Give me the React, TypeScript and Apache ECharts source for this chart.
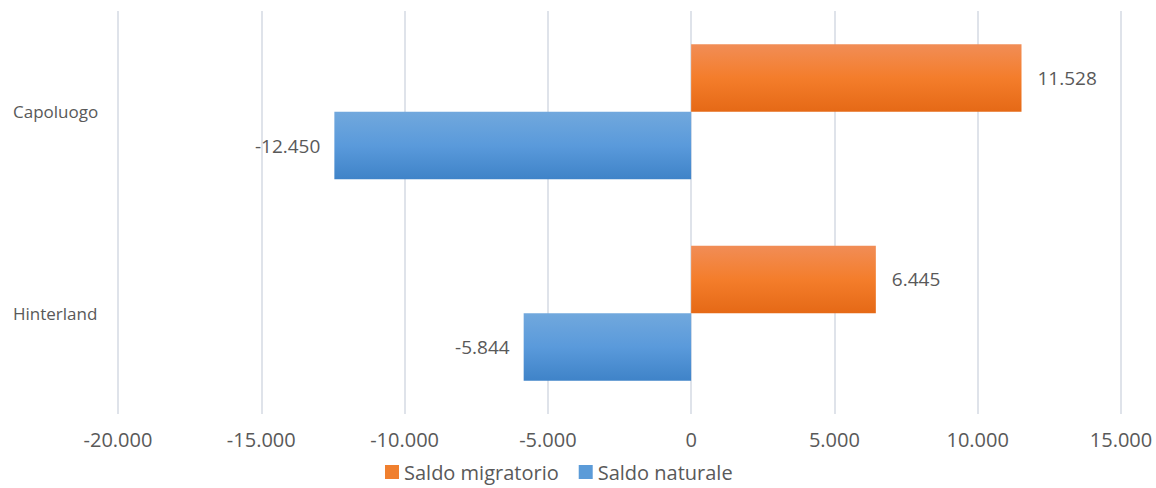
import React, { useEffect, useRef } from "react";
import * as echarts from "echarts";

const categories = ["Hinterland", "Capoluogo"];
const saldoMigratorio = [6445, 11528];
const saldoNaturale = [-5844, -12450];
const seriesNames = ["Saldo migratorio", "Saldo naturale"];
const xMin = -20000;
const xMax = 15000;
const xInterval = 5000;

function fmt(v: number): string {
  const s = Math.abs(Math.round(v)).toString().replace(/\B(?=(\d{3})+(?!\d))/g, ".");
  return (v < 0 ? "-" : "") + s;
}

const FONT = "'Open Sans', 'Noto Sans', sans-serif";
const TXT = "#595959";

export default function App() {
  const ref = useRef<HTMLDivElement>(null);
  useEffect(() => {
    document.body.style.margin = "0";
    if (!ref.current) return;
    const chart = echarts.init(ref.current, undefined, { renderer: "svg" });
    const orange = new echarts.graphic.LinearGradient(0, 0, 0, 1, [
      { offset: 0, color: "#f18d56" },
      { offset: 0.5, color: "#f47d2b" },
      { offset: 1, color: "#e56916" },
    ]);
    const blue = new echarts.graphic.LinearGradient(0, 0, 0, 1, [
      { offset: 0, color: "#71a8dd" },
      { offset: 0.5, color: "#5a9adb" },
      { offset: 1, color: "#3f83c8" },
    ]);
    chart.setOption({
      animation: false,
      textStyle: { fontFamily: FONT },
      grid: { left: 118, right: 35, top: 11, bottom: 74, containLabel: false },
      legend: {
        data: [
          { name: seriesNames[0], itemStyle: { color: "#f07f2e" } },
          { name: seriesNames[1], itemStyle: { color: "#5b9bd8" } },
        ],
        top: 461,
        left: 385,
        icon: "rect",
        itemWidth: 14,
        itemHeight: 14,
        itemGap: 20,
        padding: 0,
        textStyle: { color: TXT, fontSize: 20, lineHeight: 22, fontFamily: FONT },
      },
      xAxis: {
        type: "value",
        min: xMin,
        max: xMax,
        interval: xInterval,
        axisLine: { show: false },
        axisTick: { show: false },
        splitLine: { show: true, lineStyle: { color: "#dfe3ea", width: 2 } },
        axisLabel: {
          color: TXT,
          fontSize: 20,
          margin: 15,
          fontFamily: FONT,
          formatter: (v: number) => fmt(v),
        },
      },
      yAxis: {
        type: "category",
        data: categories,
        axisLine: { show: false },
        axisTick: { show: false },
        axisLabel: {
          color: TXT,
          fontSize: 17,
          fontFamily: FONT,
          align: "left",
          margin: 105,
        },
      },
      series: [
        {
          name: seriesNames[0],
          type: "bar",
          data: saldoMigratorio,
          barGap: "0%",
          barCategoryGap: "33%",
          itemStyle: { color: orange },
          label: {
            show: true,
            position: "right",
            distance: 16,
            color: TXT,
            fontSize: 19,
            fontFamily: FONT,
            formatter: (p: any) => fmt(p.value),
          },
        },
        {
          name: seriesNames[1],
          type: "bar",
          data: saldoNaturale,
          barGap: "0%",
          barCategoryGap: "33%",
          itemStyle: { color: blue },
          label: {
            show: true,
            position: "left",
            distance: 14,
            color: TXT,
            fontSize: 19,
            fontFamily: FONT,
            formatter: (p: any) => fmt(p.value),
          },
        },
      ],
    });
    return () => chart.dispose();
  }, []);
  return <div ref={ref} style={{ width: 1156, height: 488 }} />;
}
